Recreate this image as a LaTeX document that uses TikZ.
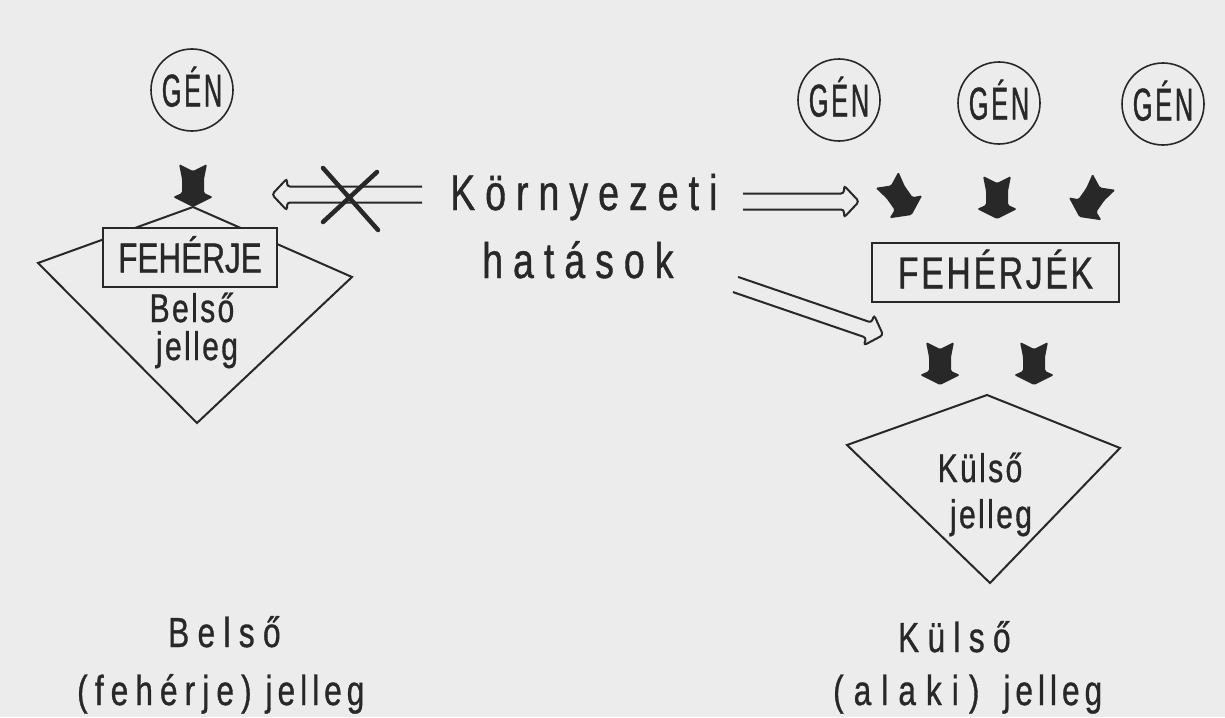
\documentclass[tikz,border=0pt]{standalone}
\usepackage{fontspec}
\setmainfont[FakeStretch=0.75,FakeBold=0.8,LetterSpace=6]{Liberation Sans}
\newfontfamily\spaced[FakeStretch=0.75,FakeBold=0.8,LetterSpace=20]{Liberation Sans}
\newfontfamily\midsp[FakeStretch=0.75,FakeBold=0.8,LetterSpace=12]{Liberation Sans}
\newfontfamily\tight[FakeStretch=0.75,FakeBold=0.8]{Liberation Sans}
\newfontfamily\narrow[FakeStretch=0.55,FakeBold=0.8,LetterSpace=6]{Liberation Sans}
\newcommand\fsz[1]{\fontsize{#1}{#1}\selectfont}
\usepackage{tikz}
\usetikzlibrary{positioning}
\definecolor{paper}{RGB}{236,236,236}
\definecolor{ink}{RGB}{40,40,40}
\tikzstyle{line} = [draw=ink, line width=2pt]
\tikzstyle{gen} = [circle, draw=ink, line width=1.6pt, minimum size=82pt, inner sep=0pt, text=ink, font=\narrow\fsz{46}, text height=33pt, text depth=0pt]
\tikzstyle{box} = [rectangle, draw=ink, line width=2.2pt, fill=paper, inner sep=0pt, text=ink, text depth=0pt]
\tikzstyle{txt} = [text=ink, inner sep=0pt, anchor=base]
\tikzset{
  pics/blob/.style={code={
    \fill[ink, rounded corners=1.5pt] (-14,-21) -- (0,-14) -- (14,-21) -- (11,-6) -- (11,8) -- (20,12) -- (0,22) -- (-20,12) -- (-11,8) -- (-11,-6) -- cycle;
  }},
  pics/dblarrow/.style={code={
    \draw[line, rounded corners=3pt] (0,-8) -- (#1-15,-8) -- (#1-15,-16) -- (#1,0) -- (#1-15,16) -- (#1-15,8) -- (0,8);
  }}
}

\begin{document}
\begin{tikzpicture}[x=1pt,y=-1pt]
\fill[paper] (0,0) rectangle (1225,717);

% belso jelleg
\node[gen] (genL) at (192,90) {GÉN};
\draw[line] (193,207) -- (352,277) -- (197,423) -- (38,263) -- cycle;
\node[box, minimum width=174pt, minimum height=59pt, font=\tight\fsz{42}, text height=30pt] (feherje) at (190,257.5) {FEHÉRJE};
\pic at (193,185) {blob};
\node[txt, font=\fsz{40}] (belsoIn) at (192,322) {Belső};
\node[txt, font=\fsz{40}] (jellegL) at (197,360) {jelleg};

% kornyezeti hatasok
\node[txt, anchor=base west, font=\spaced\fsz{50}] (env) at (450,210) {Környezeti};
\node[txt, anchor=base west, font=\spaced\fsz{50}] (hatas) at (482,278) {hatások};
\coordinate (crossS) at (422,194.5);
\pic[rotate=180] at (crossS) {dblarrow=150};
\draw[ink, line width=4.5pt, line cap=round] (323,168) -- (378,230) (377,172) -- (323,222);
\coordinate (rightS) at (743,201.5);
\pic at (rightS) {dblarrow=116};
\coordinate (diagS) at (735.5,284.5);
\pic[rotate=-18.9] at (diagS) {dblarrow=156};

% kulso jelleg
\foreach \x/\y [count=\i] in {839/100, 999/103, 1163/104}
  \node[gen] (gen\i) at (\x,\y) {GÉN};
\pic[rotate=35] at (899,197) {blob};
\pic at (997,197) {blob};
\pic[rotate=-35] at (1092,199) {blob};
\node[box, minimum width=247pt, minimum height=59pt, font=\fsz{45}, text height=32pt] (feherjek) at (995.5,272.5) {FEHÉRJÉK};
\pic at (940,363) {blob};
\pic at (1034,363) {blob};
\draw[line] (987,395) -- (1120,448) -- (990,583) -- (847,445) -- cycle;
\node[txt, font=\fsz{40}] (kulsoIn) at (980,482) {Külső};
\node[txt, font=\fsz{40}] (jellegR) at (991,528) {jelleg};

% feliratok
\node[txt, anchor=base west, font=\spaced\fsz{42}] (belso) at (168,647) {Belső};
\node[txt, anchor=base west, font=\fsz{42}] (belsoB) at (77,705) {{\addfontfeature{LetterSpace=17}(fehérje)}\hspace{14pt}{\midsp jelleg}};
\node[txt, anchor=base west, font=\spaced\fsz{42}] (kulso) at (898,652) {Külső};
\node[txt, anchor=base west, font=\fsz{42}] (kulsoB) at (833,705) {{\addfontfeature{LetterSpace=24}(alaki)}\hspace{24pt}{\midsp jelleg}};
\end{tikzpicture}
\end{document}
